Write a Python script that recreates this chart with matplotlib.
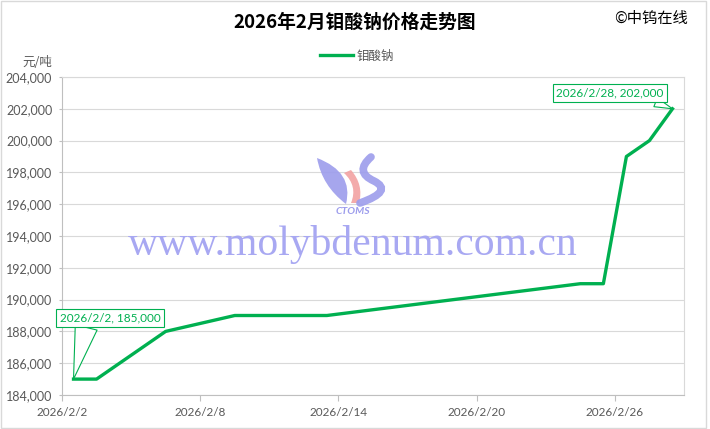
import numpy as np
import pandas as pd
import matplotlib
matplotlib.use("Agg")
import matplotlib.pyplot as plt
import matplotlib.dates as mdates
from matplotlib.path import Path
from matplotlib.patches import PathPatch, Rectangle
from matplotlib.ticker import FuncFormatter, MultipleLocator
from matplotlib.transforms import Affine2D

plt.rcParams['font.family'] = ['Lato', 'Noto Sans CJK SC', 'DejaVu Sans']

# data (trading days only)
dates = ["2026-02-02", "2026-02-03", "2026-02-04", "2026-02-05", "2026-02-06",
         "2026-02-09", "2026-02-10", "2026-02-11", "2026-02-12", "2026-02-13",
         "2026-02-24", "2026-02-25", "2026-02-26", "2026-02-27", "2026-02-28"]
prices = [185000, 185000, 186000, 187000, 188000,
          189000, 189000, 189000, 189000, 189000,
          191000, 191000, 199000, 200000, 202000]
series_name = "钼酸钠"
title = "2026年2月钼酸钠价格走势图"
tick_dates = ["2026-02-02", "2026-02-08", "2026-02-14", "2026-02-20", "2026-02-26"]

GREEN = "#00B050"
GRAY_TXT = "#595959"
GRID = "#D9D9D9"

x = pd.to_datetime(dates) + pd.Timedelta(hours=12)   # excel puts points mid-day

fig = plt.figure(figsize=(7.10, 4.29), dpi=100)
ax = fig.add_axes([62 / 710, 1 - 395 / 429, 622 / 710, 318 / 429])

ax.plot(x, prices, color=GREEN, lw=2.4, zorder=3, solid_joinstyle="round")

ax.set_xlim(pd.Timestamp("2026-02-02"), pd.Timestamp("2026-03-01"))
ax.set_ylim(184000, 204000)
ax.yaxis.set_major_locator(MultipleLocator(2000))
ax.yaxis.set_major_formatter(FuncFormatter(lambda v, p: f"{int(v):,}"))
ax.set_xticks(pd.to_datetime(tick_dates))
ax.xaxis.set_major_formatter(FuncFormatter(
    lambda v, p: "{0.year}/{0.month}/{0.day}".format(mdates.num2date(v))))

ax.grid(axis="y", color=GRID, lw=0.8)
ax.set_axisbelow(True)
for s in ax.spines.values():
    s.set_color(GRID)
    s.set_linewidth(0.8)
ax.spines["left"].set_color("#BFBFBF")
ax.spines["bottom"].set_color("#BFBFBF")
ax.tick_params(axis="x", colors="#BFBFBF", labelcolor=GRAY_TXT, labelsize=8.5,
               length=4, width=0.8, pad=5)
ax.tick_params(axis="y", colors="#BFBFBF", labelcolor=GRAY_TXT, labelsize=9,
               length=2, width=0.8, pad=5)

# watermark
ax.text(0.468, 0.472, "www.molybdenum.com.cn", transform=ax.transAxes,
        ha="center", va="center", fontsize=30, family="Liberation Serif",
        color="#A8A8F2", zorder=1)
ax.text(0.468, 0.578, "CTOMS", transform=ax.transAxes, ha="center", va="center",
        fontsize=7.5, fontweight="bold", style="italic", color="#9C9CEC", zorder=1)

# rough logo, drawn in figure pixels
px = Affine2D().scale(1 / 710, -1 / 429).translate(0, 1) + fig.transFigure
Q, L, M, Z = Path.CURVE3, Path.LINETO, Path.MOVETO, Path.CLOSEPOLY
left = Path([(317, 158), (354, 172), (346, 204), (322, 186), (317, 158), (317, 158)],
            [M, Q, Q, Q, Q, Z])
red = Path([(344, 173), (358, 186), (351, 203), (359, 203), (364, 185), (351, 170), (344, 173)],
           [M, Q, Q, L, Q, Q, Z])
for pth, col in [(left, "#9C9CEC"), (red, "#F2A2A2")]:
    fig.patches.append(PathPatch(pth, transform=px, fc=col, ec="none", alpha=0.9))
right = Path([(371, 157), (354, 172), (374, 181), (394, 191), (360, 203)], [M, Q, Q, Q, Q])
fig.patches.append(PathPatch(right, transform=px, fill=False, ec="#9C9CEC", lw=5.5,
                             alpha=0.9, capstyle="round"))

# callouts
box = dict(boxstyle="square,pad=0.3", fc="white", ec=GREEN, lw=0.8)
ax.annotate(f"2026/2/2, {prices[0]:,}", xy=(x[0], prices[0]), xytext=(26.5, 44),
            textcoords="offset points", ha="center", va="center", fontsize=8.5,
            color=GREEN, bbox=box, zorder=5,
            arrowprops=dict(arrowstyle="wedge,tail_width=1.9,shrink_factor=0.5",
                            fc="white", ec=GREEN, lw=0.8, relpos=(0.27, 0),
                            shrinkA=0, shrinkB=0))
ax.annotate(f"2026/2/28, {prices[-1]:,}", xy=(x[-1], prices[-1]), xytext=(-45, 11.5),
            textcoords="offset points", ha="center", va="center", fontsize=8.5,
            color=GREEN, bbox=box, zorder=5,
            arrowprops=dict(arrowstyle="wedge,tail_width=0.8,shrink_factor=0.5",
                            fc="white", ec=GREEN, lw=0.8, relpos=(0.83, 0),
                            shrinkA=0, shrinkB=0))

# titles, legend, unit
fig.text(0.5, 1 - 22 / 429, title, ha="center", va="center", fontsize=13.5,
         fontweight="bold", family=["Noto Sans CJK SC"], color="black")
fig.text(688 / 710, 1 - 18 / 429, "©中钨在线", ha="right", va="center",
         fontsize=11, family=["Noto Sans CJK SC", "DejaVu Sans"], color="black")
fig.text(52 / 710, 1 - 62 / 429, "元/吨", ha="right", va="center", fontsize=9,
         family=["Noto Sans CJK SC"], color=GRAY_TXT)
leg = fig.legend([ax.lines[0]], [series_name], loc="center",
                 bbox_to_anchor=(357 / 710, 1 - 56 / 429), frameon=False,
                 handlelength=2.6, handletextpad=0.3,
                 prop={"family": "Noto Sans CJK SC", "size": 9})
for t in leg.get_texts():
    t.set_color(GRAY_TXT)

fig.patches.append(Rectangle((0.002, 0.003), 0.993, 0.994, transform=fig.transFigure,
                             fill=False, ec=GRID, lw=1))

fig.savefig("out.png", dpi=100)
